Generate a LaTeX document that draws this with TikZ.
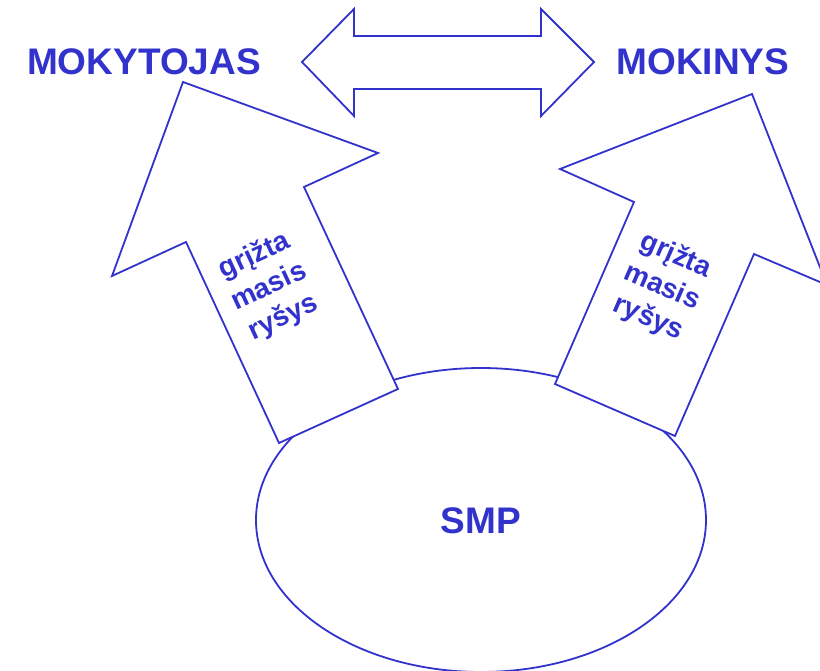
\documentclass[tikz,border=0pt]{standalone}
\usepackage{fontspec}
\setmainfont{Liberation Sans}
\definecolor{dblue}{RGB}{50,50,205}
\begin{document}
\begin{tikzpicture}[x=1pt,y=-1pt,
  shapeline/.style={draw=dblue,line width=1.8pt,fill=white,line join=miter},
  bigtext/.style={text=dblue,font=\bfseries\fontsize{37}{40}\selectfont,inner sep=0pt},
  arrowtext/.style={text=dblue,align=center,font=\bfseries\fontsize{28}{34}\selectfont,inner sep=0pt}]
\useasboundingbox (0,0) rectangle (820,671);
\clip (0,0) rectangle (820,671);
% ellipse
\draw[shapeline] (481,520) ellipse [x radius=225, y radius=152];
% left arrow
\draw[shapeline] (183,82) -- (378,153) -- (304,187) -- (398,389) -- (279,443) -- (186,242) -- (112,276) -- cycle;
% right arrow
\draw[shapeline] (752,94) -- (827,285) -- (754,254) -- (675,436) -- (555,384) -- (634,202) -- (560,169) -- cycle;
% double arrow
\draw[shapeline] (302,62) -- (354,9) -- (354,36) -- (541,36) -- (541,9) -- (594,62) -- (541,116) -- (541,89) -- (354,89) -- (354,116) -- cycle;
% texts
\node[bigtext] (teacher) at (144,62) {MOKYTOJAS};
\node[bigtext] (student) at (703,62) {MOKINYS};
\node[bigtext] (smp) at (481,521) {SMP};
\node[arrowtext,rotate=25] (fbl) at (269,287) {grįžta\\masis\\ryšys};
\node[arrowtext,rotate=-23.5] (fbr) at (662,287) {grįžta\\masis\\ryšys};
\end{tikzpicture}
\end{document}
